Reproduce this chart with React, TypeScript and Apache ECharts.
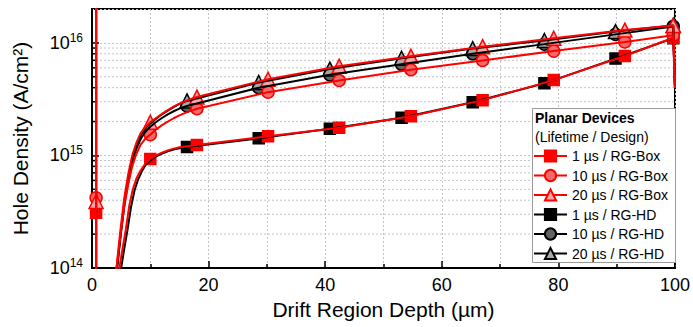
import React, { useEffect, useRef } from 'react';
import * as echarts from 'echarts';

// ---------- data ----------
const X_MIN = 0;
const X_MAX = 100;
const Y_MIN = 1e14;
const Y_MAX = 2e16;
const DECADES = [14, 15, 16];
const MINOR_MULT = [2, 3, 4, 5, 6, 7, 8, 9];

const seriesNames = [
  '1 µs / RG-Box',
  '10 µs / RG-Box',
  '20 µs / RG-Box',
  '1 µs / RG-HD',
  '10 µs / RG-HD',
  '20 µs / RG-HD',
];

// marker positions (µm)
const boxX = [0.7, 10, 18, 30.2, 42.4, 54.7, 67, 79.2, 91.4, 99.7];
const hdX = [16.3, 28.6, 40.8, 53.1, 65.3, 77.6, 89.8, 99.7];

// marker values (A/cm^2)
const box1Values = [3.1e14, 9.3e14, 1.24e15, 1.48e15, 1.76e15, 2.23e15, 3.1e15, 4.67e15, 7.64e15, 1.11e16];
const box10Values = [4.2e14, 1.53e15, 2.6e15, 3.65e15, 4.63e15, 5.77e15, 6.98e15, 8.45e15, 1.02e16, 1.17e16];
const box20Values = [3.9e14, 1.97e15, 3.3e15, 4.75e15, 6.2e15, 7.6e15, 9.25e15, 1.1e16, 1.3e16, 1.43e16];
const hd1Values = [1.19e15, 1.42e15, 1.73e15, 2.16e15, 2.97e15, 4.37e15, 7.25e15, 1.1e16];
const hd10Values = [2.75e15, 4.0e15, 5.2e15, 6.45e15, 8.0e15, 9.75e15, 1.19e16, 1.4e16];
const hd20Values = [3.05e15, 4.45e15, 5.85e15, 7.3e15, 8.9e15, 1.05e16, 1.26e16, 1.43e16];

// extra profile points (between / outside markers)
const box1Curve: [number, number][] = [
  [0.7, 1e17], [0.7, 1e12], [4.4, 1e12], [4.7, 1e14], [5.2, 1.45e14], [5.8, 2.2e14], [6.4, 3.6e14],
  [7.0, 5.0e14], [7.6, 6.2e14], [8.3, 7.3e14], [9.1, 8.4e14], [11, 1.0e15], [12, 1.06e15], [13, 1.11e15],
  [14, 1.15e15], [15, 1.18e15], [16, 1.2e15], [17, 1.22e15], [100, 4e15],
];
const box10Curve: [number, number][] = [
  [0.7, 1e17], [0.7, 1e12], [3.9, 1e12], [4.2, 1e14], [4.8, 1.8e14], [5.5, 3.4e14], [6.2, 5.5e14],
  [6.9, 8.0e14], [7.6, 1.03e15], [8.35, 1.25e15], [9.2, 1.42e15], [11, 1.7e15], [12, 1.86e15], [13, 2.0e15],
  [14, 2.14e15], [15, 2.27e15], [16, 2.39e15], [17, 2.5e15], [100, 4e15],
];
const box20Curve: [number, number][] = [
  [0.7, 1e17], [0.7, 1e12], [3.9, 1e12], [4.2, 1e14], [4.8, 2.0e14], [5.5, 4.07e14], [6.2, 6.76e14],
  [6.9, 1.0e15], [7.6, 1.29e15], [8.35, 1.58e15], [9.2, 1.8e15], [11, 2.15e15], [12, 2.34e15], [13, 2.53e15],
  [14, 2.71e15], [15, 2.88e15], [16, 3.04e15], [17, 3.18e15], [100, 4e15],
];
const hd1Curve: [number, number][] = [
  [0.7, 1e17], [0.7, 1e12], [4.7, 1e12], [5.0, 1e14], [5.5, 1.45e14], [6.1, 2.2e14], [6.7, 3.5e14],
  [7.3, 4.9e14], [7.9, 6.1e14], [8.6, 7.3e14], [9.3, 8.4e14], [10, 9.0e14], [11, 9.8e14], [12, 1.04e15],
  [13, 1.09e15], [14, 1.13e15], [15, 1.16e15], [100, 4e15],
];
const hd10Curve: [number, number][] = [
  [0.7, 1e17], [0.7, 1e12], [4.0, 1e12], [4.3, 1e14], [4.9, 1.9e14], [5.6, 3.8e14], [6.3, 6.2e14],
  [7.0, 9.2e14], [7.7, 1.18e15], [8.45, 1.43e15], [9.2, 1.63e15], [10, 1.8e15], [11, 1.98e15], [12, 2.15e15],
  [13, 2.32e15], [14, 2.47e15], [15, 2.61e15], [100, 4e15],
];
const hd20Curve: [number, number][] = [
  [0.7, 1e17], [0.7, 1e12], [4.0, 1e12], [4.3, 1e14], [4.9, 2.0e14], [5.6, 4.0e14], [6.3, 6.6e14],
  [7.0, 9.8e14], [7.7, 1.26e15], [8.45, 1.54e15], [9.2, 1.75e15], [10, 1.92e15], [11, 2.12e15], [12, 2.32e15],
  [13, 2.5e15], [14, 2.69e15], [15, 2.87e15], [100, 4e15],
];

// ---------- styles ----------
const FONT = "'Liberation Sans', Arial, sans-serif";
const RED = '#ff0000';
const BLACK = '#000000';

type Def = {
  name: string;
  xs: number[];
  ys: number[];
  curve: [number, number][];
  color: string;
  fill: string;
  symbol: string;
  size: number;
};

const defs: Def[] = [
  { name: seriesNames[3], xs: hdX, ys: hd1Values, curve: hd1Curve, color: BLACK, fill: '#000000', symbol: 'rect', size: 11 },
  { name: seriesNames[4], xs: hdX, ys: hd10Values, curve: hd10Curve, color: BLACK, fill: '#626262', symbol: 'circle', size: 12 },
  { name: seriesNames[5], xs: hdX, ys: hd20Values, curve: hd20Curve, color: BLACK, fill: '#a8a8a8', symbol: 'triangle', size: 14 },
  { name: seriesNames[0], xs: boxX, ys: box1Values, curve: box1Curve, color: RED, fill: '#ff0000', symbol: 'rect', size: 11 },
  { name: seriesNames[1], xs: boxX, ys: box10Values, curve: box10Curve, color: RED, fill: '#f26a6a', symbol: 'circle', size: 12 },
  { name: seriesNames[2], xs: boxX, ys: box20Values, curve: box20Curve, color: RED, fill: '#f5a5a5', symbol: 'triangle', size: 14 },
];

function buildPath(d: Def): [number, number][] {
  const markers: [number, number][] = d.xs.map((x, i) => [x, d.ys[i]]);
  const all = markers.concat(d.curve);
  all.sort((a, b) => (a[0] !== b[0] ? a[0] - b[0] : b[1] - a[1]));
  return all;
}

export default function App() {
  const ref = useRef<HTMLDivElement>(null);

  useEffect(() => {
    const el = ref.current!;
    const chart = echarts.init(el, null, { renderer: 'svg' });

    const groups = [defs.slice(0, 3), defs.slice(3, 6)];
    const series: any[] = [];
    groups.forEach((g) => {
      g.forEach((d) => {
        series.push({
          type: 'line',
          name: d.name,
          data: buildPath(d),
          showSymbol: false,
          symbol: d.symbol,
          symbolSize: d.size,
          lineStyle: { color: d.color, width: 2 },
          itemStyle: { color: d.fill, borderColor: d.color, borderWidth: 1.5 },
          clip: true,
          silent: true,
        });
      });
      g.forEach((d) => {
        series.push({
          type: 'scatter',
          name: d.name + ' markers',
          data: d.xs.map((x, i) => [x, d.ys[i]]),
          symbol: d.symbol,
          symbolSize: d.size,
          itemStyle: { color: d.fill, borderColor: d.color, borderWidth: 1.5, opacity: 1 },
          clip: false,
          silent: true,
        });
      });
    });

    const option: any = {
      animation: false,
      backgroundColor: '#ffffff',
      grid: {
        left: 92,
        right: 16,
        top: 9,
        bottom: 59,
        show: true,
        borderColor: '#000',
        borderWidth: 2,
        backgroundColor: 'transparent',
      },
      xAxis: {
        type: 'value',
        min: X_MIN,
        max: X_MAX,
        interval: 20,
        name: 'Drift Region Depth (µm)',
        nameLocation: 'middle',
        nameGap: 26,
        nameTextStyle: { fontFamily: FONT, fontSize: 21, color: '#000' },
        axisLine: { show: true, lineStyle: { color: '#000', width: 2 } },
        axisTick: { show: true, inside: true, length: 7, lineStyle: { color: '#000', width: 1.5 } },
        minorTick: { show: true, splitNumber: 2, length: 4, lineStyle: { color: '#000', width: 1.5 } },
        splitLine: { show: true, lineStyle: { color: '#c4c4c4', type: [2, 2], width: 1 } },
        minorSplitLine: { show: true, lineStyle: { color: '#c4c4c4', type: [2, 2], width: 1 } },
        axisLabel: { fontFamily: FONT, fontSize: 18, color: '#000', margin: 8 },
      },
      yAxis: {
        type: 'log',
        logBase: 10,
        min: Y_MIN,
        max: Y_MAX,
        name: 'Hole Density (A/cm²)',
        nameLocation: 'middle',
        nameGap: 61,
        nameTextStyle: { fontFamily: FONT, fontSize: 21, color: '#000' },
        axisLine: { show: true, lineStyle: { color: '#000', width: 2 } },
        axisTick: { show: true, inside: true, length: 7, lineStyle: { color: '#000', width: 1.5 } },
        splitLine: { show: true, lineStyle: { color: '#c4c4c4', type: [2, 2], width: 1 } },
        axisLabel: {
          fontFamily: FONT,
          color: '#000',
          margin: 9,
          showMaxLabel: false,
          formatter: (v: number) => {
            const l = Math.log10(v);
            const e = Math.round(l);
            if (Math.abs(l - e) > 1e-6) return '';
            return `{b|10}{s|${e}}`;
          },
          rich: {
            b: { fontFamily: FONT, fontSize: 18, color: '#000' },
            s: { fontFamily: FONT, fontSize: 12, color: '#000', padding: [0, 0, 10, 0] },
          },
        },
      },
      legend: {
        show: true,
        data: seriesNames,
        orient: 'vertical',
        left: 533,
        top: 149,
        padding: 0,
        itemWidth: 33,
        itemHeight: 14,
        itemGap: 5.5,
        z: 20,
        selectedMode: false,
        textStyle: { fontFamily: FONT, fontSize: 14, color: '#000' },
        lineStyle: { width: 2 },
      },
      series,
    };

    chart.setOption(option);

    const px0 = chart.convertToPixel({ xAxisIndex: 0 }, X_MIN) as number;
    const px1 = chart.convertToPixel({ xAxisIndex: 0 }, X_MAX) as number;
    const minorVals: number[] = [];
    DECADES.forEach((d) => {
      MINOR_MULT.forEach((m) => {
        const v = m * Math.pow(10, d);
        if (v > Y_MIN * 1.0001 && v < Y_MAX * 0.9999) minorVals.push(v);
      });
    });
    const graphics: any[] = [];
    minorVals.forEach((v) => {
      const y = chart.convertToPixel({ yAxisIndex: 0 }, v) as number;
      graphics.push({
        type: 'line',
        silent: true,
        z: 0,
        shape: { x1: px0, y1: y, x2: px1, y2: y },
        style: { stroke: '#c4c4c4', lineWidth: 1, lineDash: [2, 2] },
      });
      graphics.push({
        type: 'line',
        silent: true,
        z: 1,
        shape: { x1: px0, y1: y, x2: px0 + 4, y2: y },
        style: { stroke: '#000', lineWidth: 1.5 },
      });
    });
    // legend box
    graphics.push({
      type: 'rect',
      silent: true,
      z: 15,
      shape: { x: 532.5, y: 108.5, width: 143, height: 154 },
      style: { fill: '#ffffff', stroke: '#9a9a9a', lineWidth: 1 },
    });
    graphics.push({
      type: 'text',
      silent: true,
      z: 21,
      x: 535,
      y: 118,
      style: { text: 'Planar Devices', font: `bold 14px ${FONT}`, fill: '#000', verticalAlign: 'middle' },
    });
    graphics.push({
      type: 'text',
      silent: true,
      z: 21,
      x: 535,
      y: 136.5,
      style: { text: '(Lifetime / Design)', font: `14px ${FONT}`, fill: '#000', verticalAlign: 'middle' },
    });
    chart.setOption({ graphic: graphics });

    return () => chart.dispose();
  }, []);

  return (
    <div
      ref={ref}
      style={{ position: 'fixed', left: 0, top: 0, width: 693, height: 327, background: '#fff' }}
    />
  );
}
